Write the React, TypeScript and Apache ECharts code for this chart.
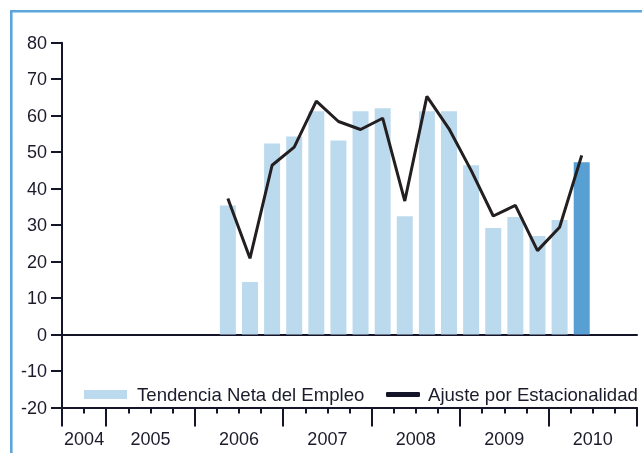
import React, { useEffect, useRef } from "react";
import * as echarts from "echarts";

// 26 quarters: 2004 Q3 .. 2010 Q4
const quarters: string[] = [
  "2004-T3", "2004-T4",
  "2005-T1", "2005-T2", "2005-T3", "2005-T4",
  "2006-T1", "2006-T2", "2006-T3", "2006-T4",
  "2007-T1", "2007-T2", "2007-T3", "2007-T4",
  "2008-T1", "2008-T2", "2008-T3", "2008-T4",
  "2009-T1", "2009-T2", "2009-T3", "2009-T4",
  "2010-T1", "2010-T2", "2010-T3", "2010-T4",
];

// Bars (Tendencia Neta del Empleo), null where no data
const tendencia: (number | null)[] = [
  null, null, null, null, null, null, null,
  35.4, 14.4, 52.4, 54.3, 61.2, 53.2, 61.2, 62, 32.4, 61.2, 61.2, 46.4, 29.2, 32.2, 27, 31.4, 47.2,
  null, null,
];

// Line (Ajuste por Estacionalidad)
const ajuste: (number | null)[] = [
  null, null, null, null, null, null, null,
  37.3, 20.9, 46.4, 51.4, 64, 58.4, 56.2, 59.3, 36.6, 65.3, 56.4, 45, 32.5, 35.4, 23, 29.4, 49.1,
  null, null,
];

// Year axis: half-quarter points (0..52), labels at year centres
const yearLabels: Record<number, string> = {
  2: "2004", 8: "2005", 16: "2006", 24: "2007", 32: "2008", 40: "2009", 48: "2010",
};
const majorTicks: number[] = [0, 4, 12, 20, 28, 36, 44, 52];

const yTicks = { min: -20, max: 80, interval: 10 };

const highlightIndex = 23;

const LIGHT = "#bcdaed";
const DARK = "#589fd4";
const AXIS = "#15152a";
const TEXT = "#1b1b2c";
const FONT = "'Liberation Sans', Arial, sans-serif";

export default function App() {
  const ref = useRef<HTMLDivElement>(null);
  useEffect(() => {
    if (!ref.current) return;
    const chart = echarts.init(ref.current, undefined, { renderer: "svg" });
    const halfPoints = Array.from({ length: 53 }, (_, i) => String(i));
    const barData = tendencia.map((v, i) =>
      v === null
        ? null
        : i === highlightIndex
        ? { value: v, itemStyle: { color: DARK } }
        : v
    );
    chart.setOption({
      animation: false,
      textStyle: { fontFamily: FONT },
      grid: { left: 62, right: 5, top: 42.7, bottom: 45.5, containLabel: false },
      legend: [
        {
          data: [{ name: "Tendencia Neta del Empleo", icon: "rect" }],
          left: 84,
          top: 385,
          padding: 0,
          itemWidth: 43,
          itemHeight: 9,
          textStyle: { color: TEXT, fontSize: 18.6, fontFamily: FONT, padding: [0, 0, 0, 5] },
          selectedMode: false,
        },
        {
          data: [{ name: "Ajuste por Estacionalidad", icon: "roundRect" }],
          left: 386,
          top: 385,
          padding: 0,
          itemWidth: 34,
          itemHeight: 5,
          textStyle: { color: TEXT, fontSize: 18.6, fontFamily: FONT, padding: [0, 0, 0, 3] },
          selectedMode: false,
        },
      ],
      xAxis: [
        {
          type: "category",
          data: quarters,
          boundaryGap: true,
          axisLine: { onZero: true, lineStyle: { color: AXIS, width: 2 } },
          axisTick: { show: false },
          axisLabel: { show: false },
          splitLine: { show: false },
        },
        {
          type: "category",
          data: halfPoints,
          boundaryGap: false,
          position: "bottom",
          axisLine: { onZero: false, lineStyle: { color: AXIS, width: 2 } },
          axisTick: {
            show: true,
            length: 6,
            interval: (i: number) => i % 2 === 0,
            lineStyle: { color: AXIS, width: 2 },
          },
          axisLabel: { show: false },
          splitLine: { show: false },
        },
        {
          type: "category",
          data: halfPoints,
          boundaryGap: false,
          position: "bottom",
          axisLine: { show: false, onZero: false },
          axisTick: {
            show: true,
            length: 19,
            interval: (i: number) => majorTicks.includes(i),
            lineStyle: { color: AXIS, width: 2 },
          },
          axisLabel: {
            show: true,
            interval: (i: number) => yearLabels[i] !== undefined,
            formatter: (v: string) => yearLabels[Number(v)] ?? "",
            color: TEXT,
            fontSize: 18,
            fontFamily: FONT,
            margin: 22,
          },
          splitLine: { show: false },
        },
      ],
      yAxis: {
        type: "value",
        min: yTicks.min,
        max: yTicks.max,
        interval: yTicks.interval,
        axisLine: { show: true, lineStyle: { color: AXIS, width: 2 } },
        axisTick: { show: true, length: 11, lineStyle: { color: AXIS, width: 2 } },
        axisLabel: { color: TEXT, fontSize: 18, fontFamily: FONT, margin: 15 },
        splitLine: { show: false },
      },
      series: [
        {
          name: "Tendencia Neta del Empleo",
          type: "bar",
          xAxisIndex: 0,
          data: barData,
          barWidth: 16,
          itemStyle: { color: LIGHT },
          z: 1,
        },
        {
          name: "Ajuste por Estacionalidad",
          type: "line",
          xAxisIndex: 0,
          data: ajuste,
          symbol: "none",
          showSymbol: false,
          connectNulls: false,
          lineStyle: { color: "#231f20", width: 3 },
          itemStyle: { color: "#141428" },
          z: 3,
        },
      ],
      graphic: [
        {
          type: "rect",
          shape: { x: 11.3, y: 11.3, width: 700, height: 600 },
          style: { fill: "none", stroke: "#5ea5db", lineWidth: 2.6 },
          silent: true,
        },
      ],
    });
    return () => chart.dispose();
  }, []);
  return (
    <div
      ref={ref}
      style={{ position: "fixed", left: 0, top: 0, width: 642, height: 453 }}
    />
  );
}
